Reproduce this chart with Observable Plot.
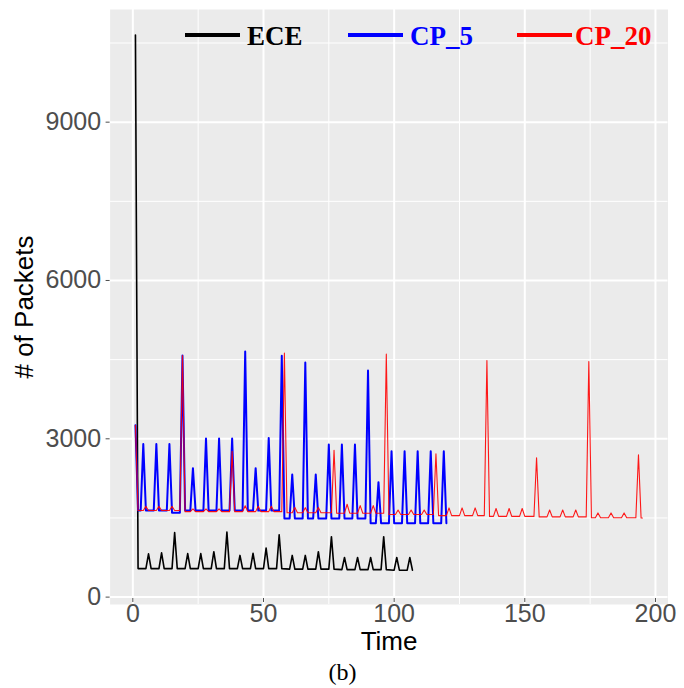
<!DOCTYPE html>
<html><head><meta charset="utf-8">
<script src="https://cdn.jsdelivr.net/npm/d3@7"></script>
<script src="https://cdn.jsdelivr.net/npm/@observablehq/plot@0.6"></script>
<style>
body{margin:0;background:#fff;}
#chart{position:relative;width:684px;height:688px;}
</style></head><body><div id="chart"></div>
<script>
// ---- data: [time, packets] vertices ----
const eceData = [
[1,10650],[2,540],[5,540],[6,820],[7,540],[10,540],[11,840],[12,540],[15,540],[16,1225],[17,540],
[20,540],[21,825],[22,540],[25,540],[26,825],[27,540],[30,540],[31,860],[32,540],[35,540],[36,1235],[37,540],
[40,540],[41,790],[42,540],[45,540],[46,830],[47,540],[50,540],[51,930],[52,540],[55,540],[56,1180],[57,540],
[60,530],[61,790],[62,530],[65,530],[66,790],[67,530],[70,530],[71,860],[72,530],[75,530],[76,1145],[77,530],
[80,520],[81,750],[82,520],[85,520],[86,750],[87,520],[90,520],[91,750],[92,520],[95,520],[96,1145],[97,520],
[100,510],[101,750],[102,510],[105,510],[106,750],[107,510]
];
const cp5Data = [
[1,3257],[2,1640],[3,1640],[4,2900],[5,1640],[8,1640],[9,2900],[10,1640],[13,1640],[14,2900],[15,1600],[18,1600],[19,4578],[20,1640],
[22,1640],[23,2444],[24,1640],[27,1640],[28,3004],[29,1640],[32,1640],[33,3004],[34,1640],[37,1640],[38,3004],[39,1640],
[42,1640],[43,4654],[44,1640],[46,1640],[47,2444],[48,1640],[51,1640],[52,3016],[53,1640],[56,1640],[57,4572],[58,1490],
[60,1490],[61,2324],[62,1490],[65,1490],[66,4445],[67,1490],[69,1490],[70,2324],[71,1490],[74,1490],[75,2890],[76,1490],
[79,1490],[80,2890],[81,1490],[84,1490],[85,2890],[86,1490],[89,1490],[90,4293],[91,1400],[93,1400],[94,2178],[95,1400],
[98,1400],[99,2762],[100,1400],[103,1400],[104,2762],[105,1400],[108,1400],[109,2762],[110,1400],[113,1400],[114,2762],[115,1400],
[118,1400],[119,2762],[120,1400]
];
const cp20Data = [
[1,3257],[2,1640],[4,1640],[5,1720],[6,1640],[9,1640],[10,1720],[11,1640],[14,1640],[15,1720],[16,1640],[18,1640],[19,4578],[20,1620],
[22,1620],[23,1670],[24,1620],[27,1620],[28,1670],[29,1620],[32,1620],[33,1670],[34,1620],[37,1620],[38,2762],[39,1620],
[42,1620],[43,1730],[44,1620],[47,1620],[48,1720],[49,1620],[52,1620],[53,1720],[54,1620],[57,1620],[58,4623],[59,1600],
[61,1600],[62,1700],[63,1600],[65,1600],[66,1695],[67,1600],[70,1600],[71,1700],[72,1600],[76,1600],[77,2781],[78,1590],
[81,1590],[82,1760],[83,1590],[86,1590],[87,1735],[88,1590],[91,1590],[92,1735],[93,1590],[96,1590],[97,4604],[98,1565],
[100.5,1565],[101.5,1650],[102.5,1565],[105.5,1565],[106.5,1650],[107.5,1565],[110.5,1565],[111.5,1650],[112.5,1565],[115,1565],[116,2718],[117,1545],
[120,1545],[121,1690],[122,1545],[125,1545],[126,1690],[127,1545],[130,1545],[131,1690],[132,1545],[134.5,1545],[135.5,4483],[136.5,1530],
[138,1530],[139,1680],[140,1530],[143,1530],[144,1680],[145,1530],[148,1530],[149,1680],[150,1530],[153.5,1530],[154.5,2642],[155.5,1520],
[158.5,1520],[159.5,1650],[160.5,1520],[163.5,1520],[164.5,1650],[165.5,1520],[168.5,1520],[169.5,1650],[170.5,1520],[173.5,1520],[174.5,4463],[175.5,1505],
[177,1505],[178,1595],[179,1505],[182,1505],[183,1595],[184,1505],[187,1505],[188,1595],[189,1505],[192.5,1505],[193.5,2699],[194.5,1500],[195,1500]
];
const seriesNames = ["ECE", "CP_5", "CP_20"];
const xTicks = [0, 50, 100, 150, 200];
const xMinor = [25, 75, 125, 175];
const yTicks = [0, 3000, 6000, 9000];
const yMinor = [1500, 4500, 7500, 10500];

const colors = {"ECE": "#000000", "CP_5": "#0000FF", "CP_20": "#FF0000"};
const toRows = (arr, name) => arr.map(([t, v]) => ({time: t, packets: v, series: name}));
const ece = toRows(eceData, "ECE"), cp5 = toRows(cp5Data, "CP_5"), cp20 = toRows(cp20Data, "CP_20");

const chart = Plot.plot({
  width: 684, height: 688,
  marginLeft: 109.6, marginRight: 16.5, marginTop: 9, marginBottom: 84,
  x: {domain: [-8.7, 204.8]},
  y: {domain: [-140, 11135]},
  style: {background: "white", fontFamily: "'Liberation Sans', Arial, sans-serif", overflow: "visible"},
  marks: [
    Plot.frame({fill: "#EBEBEB", stroke: "none"}),
    Plot.gridX(xMinor, {stroke: "white", strokeOpacity: 1, strokeWidth: 1}),
    Plot.gridY(yMinor, {stroke: "white", strokeOpacity: 1, strokeWidth: 1}),
    Plot.gridX(xTicks, {stroke: "white", strokeOpacity: 1, strokeWidth: 2}),
    Plot.gridY(yTicks, {stroke: "white", strokeOpacity: 1, strokeWidth: 2}),
    Plot.axisX(xTicks, {anchor: "bottom", tickSize: 4, tickPadding: 2, dy: -6, fontSize: 25, color: "#4D4D4D", label: null, tickFormat: d => String(d)}),
    Plot.axisY(yTicks, {anchor: "left", tickSize: 4, tickPadding: 5, fontSize: 25, color: "#4D4D4D", label: null, tickFormat: d => String(d)}),
    Plot.line(ece, {x: "time", y: "packets", stroke: colors["ECE"], strokeWidth: 1.6}),
    Plot.line(cp5, {x: "time", y: "packets", stroke: colors["CP_5"], strokeWidth: 2}),
    Plot.line(cp20, {x: "time", y: "packets", stroke: colors["CP_20"], strokeWidth: 1.1, strokeOpacity: 0.9}),
    Plot.text(["Time"], {frameAnchor: "bottom", dy: 37, fontSize: 26, fill: "black", lineAnchor: "middle", textAnchor: "middle"}),
    Plot.text(["# of Packets"], {frameAnchor: "left", dx: -85, rotate: -90, fontSize: 26, fill: "black", lineAnchor: "middle", textAnchor: "middle"}),
    Plot.text(["(b)"], {frameAnchor: "bottom", dx: -46.6, dy: 68, fontSize: 24, fill: "black", lineAnchor: "middle", textAnchor: "middle", fontFamily: "'Liberation Serif', 'Times New Roman', serif"})
  ]
});
document.getElementById("chart").append(chart);

// legend (inside panel, top)
const legendLineX = [185, 348, 517];
const legendTextX = [247, 410, 575];
const g = d3.select(chart).append("g").attr("class", "legend");
seriesNames.forEach((name, i) => {
  g.append("line").attr("x1", legendLineX[i]).attr("x2", legendLineX[i] + 55).attr("y1", 35).attr("y2", 35)
    .attr("stroke", colors[name]).attr("stroke-width", 4);
  g.append("text").attr("x", legendTextX[i]).attr("y", 45).attr("text-anchor", "start")
    .attr("fill", colors[name]).attr("font-family", "'Liberation Serif', 'Times New Roman', serif")
    .attr("font-weight", "bold").attr("font-size", 27).text(name);
});
</script></body></html>
